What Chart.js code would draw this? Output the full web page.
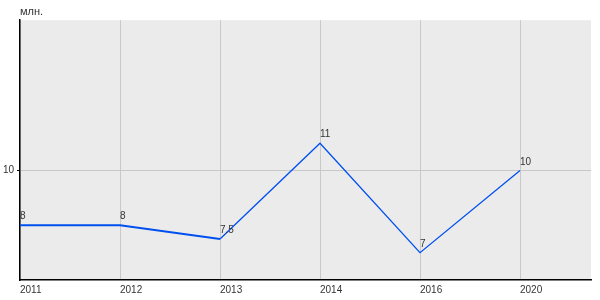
<!DOCTYPE html>
<html>
<head>
<meta charset="utf-8">
<script src="https://cdn.jsdelivr.net/npm/chart.js@4/dist/chart.umd.min.js"></script>
<style>
  html, body { margin: 0; padding: 0; background: #fff; }
  #wrap { width: 600px; height: 300px; }
</style>
</head>
<body>
<div id="wrap"><canvas id="lineChart"></canvas></div>
<script>
const years = ["2011", "2012", "2013", "2014", "2016", "2020"];
const values = [8, 8, 7.5, 11, 7, 10];
const valueLabels = ["8", "8", "7.5", "11", "7", "10"];
const yTicks = [10];
const unitLabel = "млн.";

const points = values.map((v, i) => ({ x: i, y: v }));

// fond gris de la zone de tracé
const plotBackground = {
  id: "plotBackground",
  beforeDraw(chart) {
    const { ctx, chartArea: a } = chart;
    ctx.save();
    ctx.fillStyle = "#ebebeb";
    ctx.fillRect(a.left, a.top, a.right - a.left, a.bottom - a.top);
    ctx.restore();
  },
};

// étiquettes de valeur au-dessus des points
const valueLabelsPlugin = {
  id: "valueLabels",
  afterDatasetsDraw(chart) {
    const { ctx } = chart;
    const meta = chart.getDatasetMeta(0);
    ctx.save();
    ctx.font = "10px Arial, 'Liberation Sans', sans-serif";
    ctx.fillStyle = "#333";
    ctx.textAlign = "left";
    ctx.textBaseline = "alphabetic";
    meta.data.forEach((pt, i) => {
      ctx.fillText(valueLabels[i], pt.x, pt.y - 6);
    });
    ctx.restore();
  },
};

new Chart(document.getElementById("lineChart"), {
  type: "line",
  data: {
    datasets: [
      {
        data: points,
        borderColor: "#0050f0",
        borderWidth: 1.3,
        pointRadius: 0,
        tension: 0,
        fill: false,
        segment: {
          borderWidth: (c) => (c.p0DataIndex < 2 ? 2 : 1.3),
        },
      },
    ],
  },
  options: {
    responsive: true,
    maintainAspectRatio: false,
    animation: false,
    layout: { padding: { left: 0, right: 9, top: 0, bottom: 0 } },
    plugins: {
      legend: { display: false },
      tooltip: { enabled: false },
      title: {
        display: true,
        text: unitLabel,
        align: "start",
        fullSize: false,
        color: "#333",
        font: { family: "Arial, 'Liberation Sans', sans-serif", size: 11, weight: "normal" },
        padding: { top: 5, bottom: 2 },
      },
    },
    scales: {
      x: {
        type: "linear",
        min: 0,
        max: 5.71,
        afterBuildTicks: (axis) => {
          axis.ticks = years.map((_, i) => ({ value: i }));
        },
        afterFit: (axis) => {
          axis.height = 20;
        },
        ticks: {
          align: "start",
          padding: 4,
          color: "#333",
          font: { family: "Arial, 'Liberation Sans', sans-serif", size: 10 },
          maxRotation: 0,
          callback: (v) => years[v],
        },
        grid: { color: "#c8c8c8", drawTicks: false },
        border: { color: "#000", width: 1.5 },
      },
      y: {
        min: 6,
        max: 15.5,
        afterBuildTicks: (axis) => {
          axis.ticks = yTicks.map((v) => ({ value: v }));
        },
        afterFit: (axis) => {
          axis.width = 20;
        },
        ticks: {
          padding: 3,
          color: "#333",
          font: { family: "Arial, 'Liberation Sans', sans-serif", size: 10 },
        },
        grid: { color: "#c8c8c8", tickLength: 3, tickColor: "#000" },
        border: { color: "#000", width: 1.5 },
      },
    },
  },
  plugins: [plotBackground, valueLabelsPlugin],
});
</script>
</body>
</html>
